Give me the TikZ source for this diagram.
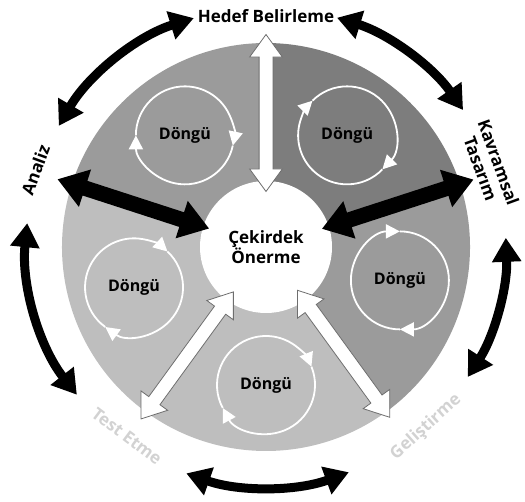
\documentclass[tikz,border=0pt]{standalone}
\usepackage{fontspec}
\setmainfont{Open Sans}
\usetikzlibrary{shapes.arrows,arrows.meta,calc,positioning,backgrounds}
\definecolor{sectdark}{RGB}{125,125,125}
\definecolor{sectmid}{RGB}{155,155,155}
\definecolor{sectlight}{RGB}{190,190,190}
\definecolor{paletext}{RGB}{210,210,210}
\definecolor{spokeline}{RGB}{110,110,110}

\begin{document}
\begin{tikzpicture}[x=1pt,y=1pt,
  every node/.style={font=\bfseries\fontsize{16}{20}\selectfont},
  core/.style={circle,fill=white,minimum size=132pt,inner sep=0pt,align=center,font=\bfseries\fontsize{17}{20}\selectfont},
  stage/.style={align=center,inner sep=1pt,font=\bfseries\fontsize{17}{19}\selectfont},
  spoke/.style={double arrow,inner xsep=0pt,outer sep=0pt,minimum height=157pt},
  whitespoke/.style={spoke,fill=white,draw=spokeline,line width=0.8pt,inner ysep=6.5pt,double arrow head extend=9.5pt,double arrow tip angle=72},
  blackspoke/.style={spoke,fill=black,inner ysep=7.5pt,double arrow head extend=12pt,double arrow tip angle=69,minimum height=159pt},
  ring/.style={draw=white,line width=1.8pt,-{Triangle[width=14pt,length=14pt]}},
  bigarc/.style={line width=9pt,{Triangle[width=28pt,length=24pt]}-{Triangle[width=28pt,length=24pt]}}]

  \useasboundingbox (0,0) rectangle (525,501);

  \node[core] (C) at (266,254) {Çekirdek\\Önerme};

  \begin{scope}[on background layer]
    \foreach \s/\col in {18/sectdark,90/sectmid,162/sectlight,234/sectlight,306/sectmid}
      \fill[fill=\col] (C.center) -- ([shift={(\s:204)}]C.center) arc[start angle=\s,delta angle=72,radius=204] -- cycle;
  \end{scope}

  \node[whitespoke,rotate=90] (S1) at ([shift={(90:134)}]C.center) {};
  \node[blackspoke,rotate=162] (S2) at ([shift={(162:139.5)}]C.center) {};
  \node[whitespoke,rotate=234] (S3) at ([shift={(234:134)}]C.center) {};
  \node[whitespoke,rotate=306] (S4) at ([shift={(306:132)}]C.center) {};
  \node[blackspoke,rotate=18] (S5) at ([shift={(18:138.5)}]C.center) {};

  \foreach \n/\a/\p/\q in {L1/126/180/-12,L2/54/135/-44,L3/-14/90/-90,L4/270/208/22,L5/197/234/47}{
    \node (\n) at ([shift={(\a:138)}]C.center) {Döngü};
    \draw[ring] ([shift={(\p:49)}]\n.center) arc[start angle=\p,delta angle={\q-\p},radius=49];
    \draw[ring] ([shift={(\q:49)}]\n.center) arc[start angle=\q,delta angle={\p-360-\q},radius=49];
  }

  \node[stage] (H) at ([shift={(90:231)}]C.center) {Hedef Belirleme};
  \node[stage,rotate=70] (A) at ([shift={(161.5:243)}]C.center) {Analiz};
  \node[stage,rotate=-70] (K) at ([shift={(20:238)}]C.center) {Kavramsal\\Tasarım};
  \node[stage,rotate=42,text=paletext] (G) at ([shift={(-48.4:241)}]C.center) {Geliştirme};
  \node[stage,rotate=-37,text=paletext] (T) at ([shift={(233.7:235)}]C.center) {Test Etme};

  \foreach \s/\e in {107.5/149.7,72.8/34.8,2.2/-32.8,250.6/290.2,174.3/218}
    \draw[bigarc] ([shift={(\s:240)}]C.center) arc[start angle=\s,end angle=\e,radius=240];
\end{tikzpicture}
\end{document}
